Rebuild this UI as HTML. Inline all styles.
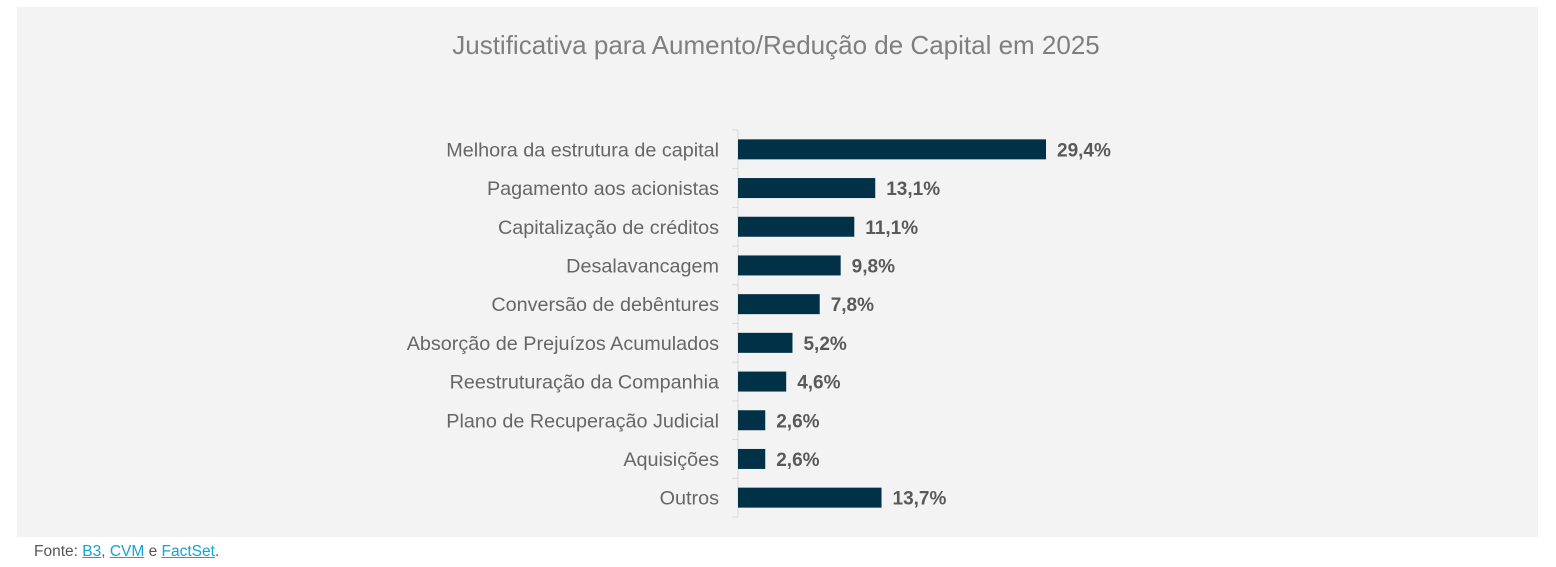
<!DOCTYPE html>
<html><head><meta charset="utf-8"><style>
body{margin:0;width:1556px;height:567px;background:#fff;font-family:"Liberation Sans",sans-serif;overflow:hidden}
#panel{position:absolute;left:17px;top:7px;width:1521px;height:530px;background:#f3f3f3}
#src{position:absolute;left:34px;top:543px;font-size:15.5px;color:#555}
#src a{color:#10a3dc;text-decoration:underline}
</style></head><body>
<div id="panel">
<svg id="chart" width="1521" height="530">
<text x="759" y="47" text-anchor="middle" font-size="26" fill="#7f7f7f">Justificativa para Aumento/Redução de Capital em 2025</text>
</svg>
</div>
<div id="src">Fonte: <a>B3</a>, <a>CVM</a> e <a>FactSet</a>.</div>
<script>
const categories=["Melhora da estrutura de capital","Pagamento aos acionistas","Capitalização de créditos","Desalavancagem","Conversão de debêntures","Absorção de Prejuízos Acumulados","Reestruturação da Companhia","Plano de Recuperação Judicial","Aquisições","Outros"];
const values=[29.4,13.1,11.1,9.8,7.8,5.2,4.6,2.6,2.6,13.7];
const labels=["29,4%","13,1%","11,1%","9,8%","7,8%","5,2%","4,6%","2,6%","2,6%","13,7%"];
const svg=document.getElementById('chart');
const NS="http://www.w3.org/2000/svg";
const x0=721, pxPer=308/29.4, yTop=123, step=38.7;
const xS=v=>x0+v*pxPer;
const yS=i=>yTop+i*step+step/2;
function mk(t,a){const e=document.createElementNS(NS,t);for(const k in a)e.setAttribute(k,a[k]);svg.appendChild(e);return e;}
const ax=mk('line',{x1:x0,x2:x0,y1:yTop,y2:yTop+step*categories.length,stroke:'#d9d9d9','stroke-width':1});


for(let i=0;i<=categories.length;i++){
 const t=mk('line',{x1:x0-6,x2:x0,y1:yTop+i*step,y2:yTop+i*step,stroke:'#d9d9d9'});
 
 
}
categories.forEach((c,i)=>{
 const y=yS(i);
 const l=mk('text',{x:x0-19,y:y+7,'text-anchor':'end','font-size':19.8,fill:'#666'});l.textContent=c;
 
 
 const b=mk('rect',{x:x0,y:y-10,width:xS(values[i])-x0,height:20,fill:'#003147'});
 
 
 const v=mk('text',{x:xS(values[i])+11,y:y+7,'font-size':19,'font-weight':'bold',fill:'#595959'});v.textContent=labels[i];
 
 
});
</script>
</body></html>
